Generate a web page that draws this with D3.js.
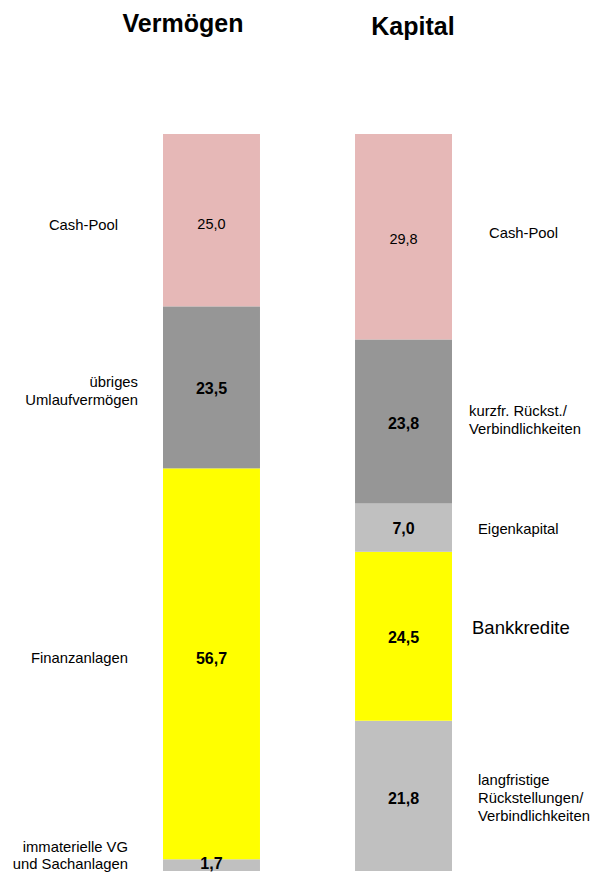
<!DOCTYPE html>
<html>
<head>
<meta charset="utf-8">
<script src="https://cdn.jsdelivr.net/npm/d3@7"></script>
<style>
  body { margin: 0; background: #fff; }
  text { font-family: "Liberation Sans", Arial, sans-serif; fill: #000; }
</style>
</head>
<body>
<div id="chart"></div>
<script>
// data, bottom segment first
var columns = ["Vermögen", "Kapital"];

var vermoegenNames = ["immaterielle VG\nund Sachanlagen", "Finanzanlagen", "übriges\nUmlaufvermögen", "Cash-Pool"];
var vermoegenValues = [1.7, 56.7, 23.5, 25.0];
var vermoegenColors = ["#c0c0c0", "#ffff00", "#969696", "#e6b8b7"];

var kapitalNames = ["langfristige\nRückstellungen/\nVerbindlichkeiten", "Bankkredite", "Eigenkapital", "kurzfr. Rückst./\nVerbindlichkeiten", "Cash-Pool"];
var kapitalValues = [21.8, 24.5, 7.0, 23.8, 29.8];
var kapitalColors = ["#c0c0c0", "#ffff00", "#c0c0c0", "#969696", "#e6b8b7"];

function fmt(v) { return d3.format(".1f")(v).replace(".", ","); }

function drawChart() {
    const width = 595, height = 873;
    const svg = d3.select("#chart").append("svg")
        .attr("width", width)
        .attr("height", height);

    const total = Math.max(d3.sum(vermoegenValues), d3.sum(kapitalValues));

    const x = d3.scaleBand()
        .domain(columns)
        .range([163, 452])
        .paddingInner(0.495)
        .paddingOuter(0);

    const y = d3.scaleLinear()
        .domain([0, total])
        .range([871, 134]);

    // titles
    svg.append("text")
        .attr("x", 183).attr("y", 32)
        .attr("text-anchor", "middle")
        .style("font-size", "25px").style("font-weight", "bold")
        .text(columns[0]);
    svg.append("text")
        .attr("x", 413).attr("y", 35)
        .attr("text-anchor", "middle")
        .style("font-size", "25px").style("font-weight", "bold")
        .text(columns[1]);

    function stackRows(names, values, colors) {
        let base = 0;
        return values.map((v, i) => {
            const row = { name: names[i], value: v, color: colors[i], y0: base, y1: base + v };
            base += v;
            return row;
        });
    }

    const leftRows = stackRows(vermoegenNames, vermoegenValues, vermoegenColors);
    const rightRows = stackRows(kapitalNames, kapitalValues, kapitalColors);

    // label tweaks: side text anchor x, dy from segment middle, font size, value bold
    const leftLabelX = [128, 128, 138, 118];
    const leftLabelDy = [-10, -6, 3, 4];
    const leftValueDy = [-1.5, -6, 1, 4];
    const leftBold = [true, true, true, false];
    const rightLabelX = [478, 472, 478, 469, 489];
    const rightLabelDy = [2, -9, 1, -2, -4];
    const rightValueDy = [2, 1, 1, 2, 2];
    const rightLabelSize = [14.8, 18.5, 14.8, 14.8, 14.8];
    const rightBold = [true, true, true, true, false];

    function drawColumn(rows, col, labelX, labelDy, valueDy, anchor, sizes, bold) {
        const g = svg.append("g");
        g.selectAll("rect")
            .data(rows)
            .enter()
            .append("rect")
            .attr("x", x(col))
            .attr("width", x.bandwidth())
            .attr("y", (d) => y(d.y1))
            .attr("height", (d) => y(d.y0) - y(d.y1))
            .attr("fill", (d) => d.color);

        // values in the middle of each segment
        g.selectAll(".val")
            .data(rows)
            .enter()
            .append("text")
            .attr("class", "val")
            .attr("x", x(col) + x.bandwidth() / 2)
            .attr("y", (d, i) => y((d.y0 + d.y1) / 2) + valueDy[i])
            .attr("dy", "0.36em")
            .attr("text-anchor", "middle")
            .style("font-size", (d, i) => bold[i] ? "16px" : "14.5px")
            .style("font-weight", (d, i) => bold[i] ? "bold" : "normal")
            .text((d) => fmt(d.value));

        // category names beside the bar
        rows.forEach((d, i) => {
            const lines = d.name.split("\n");
            const size = sizes ? sizes[i] : 14.8;
            const lh = size * 1.2;
            const cy = y((d.y0 + d.y1) / 2) + labelDy[i];
            const t = g.append("text")
                .attr("text-anchor", anchor)
                .style("font-size", size + "px");
            lines.forEach((line, k) => {
                t.append("tspan")
                    .attr("x", labelX[i])
                    .attr("y", cy + (k - (lines.length - 1) / 2) * lh)
                    .attr("dy", "0.36em")
                    .text(line);
            });
        });
    }

    drawColumn(leftRows, columns[0], leftLabelX, leftLabelDy, leftValueDy, "end", null, leftBold);
    drawColumn(rightRows, columns[1], rightLabelX, rightLabelDy, rightValueDy, "start", rightLabelSize, rightBold);
}

drawChart();
</script>
</body>
</html>
